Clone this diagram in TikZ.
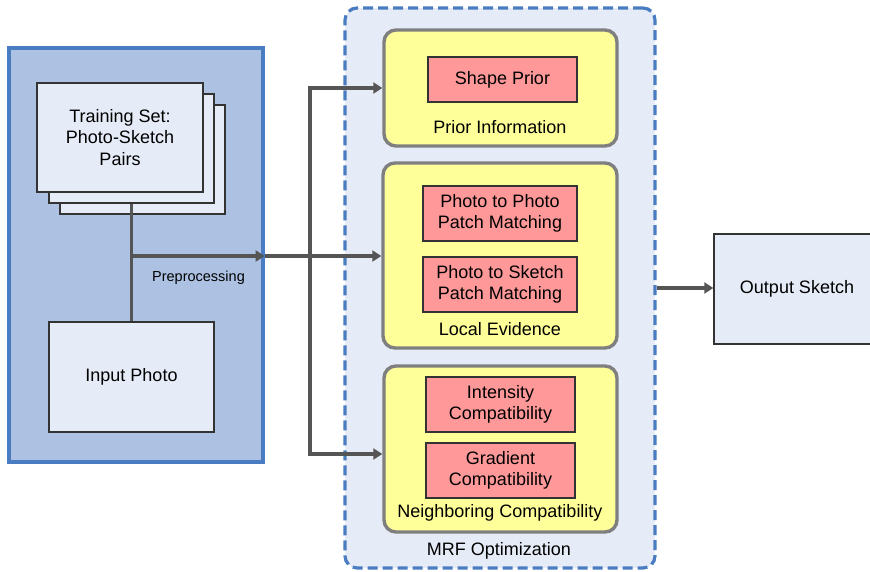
\documentclass[tikz,border=0pt]{standalone}
\usepackage{fontspec}
\setmainfont{Liberation Sans}
\usetikzlibrary{arrows.meta,calc}
\definecolor{panelfill}{HTML}{ADC2E3}
\definecolor{panelline}{HTML}{4A7CC2}
\definecolor{lightfill}{HTML}{E6ECF7}
\definecolor{yelfill}{HTML}{FFFF99}
\definecolor{redfill}{HTML}{FF9999}
\definecolor{grayline}{HTML}{7F7F7F}
\definecolor{conncol}{HTML}{555555}
\definecolor{darkline}{HTML}{333333}
\begin{document}
\begin{tikzpicture}[x=1pt,y=-1pt,
  every node/.style={font=\fontsize{18}{21.5}\selectfont, text=black, inner sep=0pt, align=center},
  panel/.style={draw=panelline, fill=panelfill, line width=3.2pt},
  lightbox/.style={draw=darkline, fill=lightfill, line width=1.4pt},
  mrfbox/.style={draw=panelline, fill=lightfill, line width=3.2pt, dash pattern=on 10pt off 5pt, rounded corners=12pt},
  yelbox/.style={draw=grayline, fill=yelfill, line width=3.4pt, rounded corners=12pt},
  redbox/.style={draw=darkline, fill=redfill, line width=1.3pt},
  conn/.style={draw=conncol, line width=3.2pt},
  arrowc/.style={conn, -{Triangle[length=9pt,width=11pt]}},
  lbl/.style={font=\fontsize{18}{21.5}\selectfont}
]
\useasboundingbox (0,0) rectangle (870,571);
% left panel
\node[panel, minimum width=254pt, minimum height=414pt] (panel) at (136,255) {};
\node[lightbox, minimum width=165pt, minimum height=109pt] (box3) at (142.5,159.5) {};
\node[lightbox, minimum width=165pt, minimum height=109pt] (box2) at (131.5,148.5) {};
\node[lightbox, minimum width=166pt, minimum height=109pt] (box1) at (120,137.5) {Training Set:\\Photo-Sketch\\Pairs};
\node[lightbox, minimum width=165pt, minimum height=110pt] (photo) at (131.5,377) {Input Photo};
% MRF
\node[mrfbox, minimum width=310pt, minimum height=560pt] (mrf) at (500,288) {};
\node[lbl] (mrflbl) at (499,551) {MRF Optimization};
\node[yelbox, minimum width=233pt, minimum height=116pt] (prior) at (500.5,88) {};
\node[redbox, minimum width=149pt, minimum height=45pt] (shape) at (502.5,79.5) {Shape Prior};
\node[lbl] (priorlbl) at (500,127) {Prior Information};
\node[yelbox, minimum width=234pt, minimum height=185pt] (local) at (500,255.5) {};
\node[redbox, minimum width=154pt, minimum height=55pt] (p2p) at (500,213.5) {Photo to Photo\\Patch Matching};
\node[redbox, minimum width=154pt, minimum height=55pt] (p2s) at (500,284.5) {Photo to Sketch\\Patch Matching};
\node[lbl] (locallbl) at (500,329) {Local Evidence};
\node[yelbox, minimum width=233pt, minimum height=166pt] (neigh) at (500.5,449) {};
\node[redbox, minimum width=149pt, minimum height=55pt] (inten) at (500.5,404.5) {Intensity\\Compatibility};
\node[redbox, minimum width=149pt, minimum height=55pt] (grad) at (500.5,470.5) {Gradient\\Compatibility};
\node[lbl] (neighlbl) at (500,513) {Neighboring Compatibility};
% output
\node[draw=darkline, fill=lightfill, line width=1.4pt, minimum width=166pt, minimum height=110pt] (out) at (797,289) {Output Sketch};
% connectors
\coordinate (J) at (131.5,256);
\coordinate (B) at (310,256);
\draw[conn] (box2.south) -- (photo.north);
\draw[arrowc] (J) -- (J -| panel.east);
\draw[arrowc] (J -| panel.east) -- (J -| local.west);
\draw[arrowc] (B) |- (prior.west);
\draw[arrowc] (B) |- ([yshift=-5pt]neigh.west);
\draw[arrowc] (mrf.east) -- (out.west |- mrf.east);
\node[font=\fontsize{14.5}{17}\selectfont] (prep) at (198.5,278) {Preprocessing};
\end{tikzpicture}
\end{document}
